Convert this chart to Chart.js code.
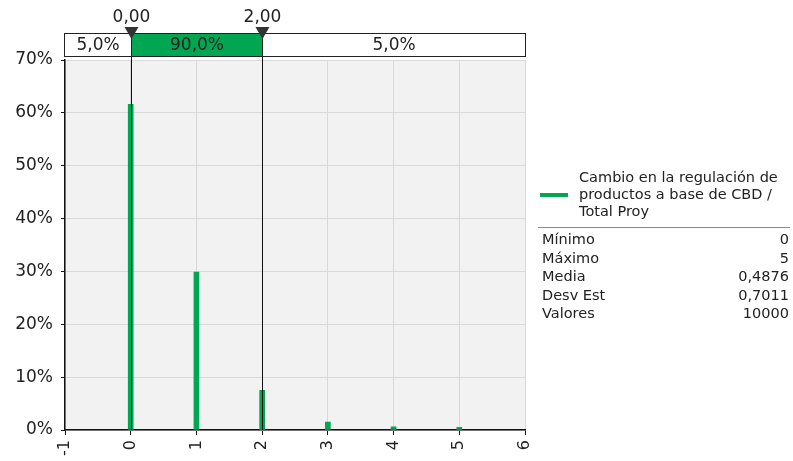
<!DOCTYPE html>
<html>
<head>
<meta charset="utf-8">
<script src="https://cdn.jsdelivr.net/npm/chart.js@4.4.1/dist/chart.umd.min.js"></script>
<style>
  html, body { margin: 0; padding: 0; background: #fff; }
  #wrap { position: relative; width: 793px; height: 461px; overflow: hidden; }
  #c { position: absolute; left: 0; top: 0; }
  #legend { position: absolute; left: 538px; top: 169px; width: 252px;
            font-family: "DejaVu Sans", sans-serif; font-size: 14.5px; color: #222; }
  #legend .series { position: relative; padding-left: 41px; line-height: 17px; }
  #legend .swatch { position: absolute; left: 2px; top: 24px; width: 28px; height: 4px; background: #00a651; }
  #legend hr { border: 0; border-top: 1px solid #888; margin: 7px 0 2px 0; }
  #legend table { width: 100%; border-collapse: collapse; font-size: 14.5px; }
  #legend td { padding: 0 0 0 4px; line-height: 18.6px; }
  #legend td.v { text-align: right; padding-right: 1px; }
</style>
</head>
<body>
<div id="wrap">
  <canvas id="c" width="793" height="461"></canvas>
  <div id="legend"></div>
</div>
<script>
// Distribution of simulated outcomes (percent of iterations per value)
const outcomes = [0, 1, 2, 3, 4, 5];
const percents = [61.6, 29.9, 7.5, 1.5, 0.6, 0.5];

// Delimiters and the share of iterations between them
const delimiters = [0, 2];
const delimiterLabels = ['0,00', '2,00'];
const bandLabels = ['5,0%', '90,0%', '5,0%'];

// Axis ranges
const xRange = [-1, 6];
const yRange = [0, 70];

// Series name and summary statistics
const seriesName = ['Cambio en la regulación de', 'productos a base de CBD /', 'Total Proy'];
const statNames = ['Mínimo', 'Máximo', 'Media', 'Desv Est', 'Valores'];
const statValues = ['0', '5', '0,4876', '0,7011', '10000'];

const GREEN = '#00a651';
const FONT = '"DejaVu Sans", sans-serif';

// Legend block
(function buildLegend() {
  const el = document.getElementById('legend');
  let html = '<div class="series"><div class="swatch"></div>' + seriesName.join('<br>') + '</div><hr><table>';
  statNames.forEach((n, i) => {
    html += '<tr><td>' + n + '</td><td class="v">' + statValues[i] + '</td></tr>';
  });
  html += '</table>';
  el.innerHTML = html;
})();

// Plot background
const plotBackground = {
  id: 'plotBackground',
  beforeDraw(chart) {
    const { ctx, chartArea: a } = chart;
    ctx.save();
    ctx.fillStyle = '#f2f2f2';
    ctx.fillRect(a.left, a.top, a.right - a.left, a.bottom - a.top);
    ctx.restore();
  }
};

// Delimiter lines, percentage band and markers above the plot
const delimiterBand = {
  id: 'delimiterBand',
  afterDatasetsDraw(chart) {
    const { ctx, chartArea: a } = chart;
    const xs = chart.scales.x;
    const px = delimiters.map(v => Math.round(xs.getPixelForValue(v)) + 0.5);
    const bandTop = 33.5, bandBot = 56.5;

    ctx.save();
    // vertical delimiter lines
    ctx.strokeStyle = '#111';
    ctx.lineWidth = 1;
    px.forEach(x => {
      ctx.beginPath();
      ctx.moveTo(x, bandTop);
      ctx.lineTo(x, a.bottom);
      ctx.stroke();
    });

    // band segments
    const edges = [Math.round(a.left) - 0.5, px[0], px[1], Math.round(a.right) + 0.5];
    ctx.fillStyle = '#fff';
    ctx.fillRect(edges[0], bandTop, edges[3] - edges[0], bandBot - bandTop);
    ctx.fillStyle = GREEN;
    ctx.fillRect(edges[1], bandTop, edges[2] - edges[1], bandBot - bandTop);
    ctx.strokeStyle = '#222';
    ctx.strokeRect(edges[0], bandTop, edges[3] - edges[0], bandBot - bandTop);
    ctx.beginPath();
    ctx.moveTo(px[0], bandTop); ctx.lineTo(px[0], bandBot);
    ctx.moveTo(px[1], bandTop); ctx.lineTo(px[1], bandBot);
    ctx.stroke();

    ctx.font = '17px ' + FONT;
    ctx.fillStyle = '#222';
    ctx.textAlign = 'center';
    ctx.textBaseline = 'middle';
    for (let i = 0; i < 3; i++) {
      ctx.fillText(bandLabels[i], (edges[i] + edges[i + 1]) / 2, (bandTop + bandBot) / 2 + 1);
    }

    // triangle markers and their values
    px.forEach((x, i) => {
      ctx.fillStyle = '#333';
      ctx.beginPath();
      ctx.moveTo(x - 7, 27);
      ctx.lineTo(x + 7, 27);
      ctx.lineTo(x, 39);
      ctx.closePath();
      ctx.fill();
      ctx.fillStyle = '#222';
      ctx.font = '17px ' + FONT;
      ctx.textBaseline = 'alphabetic';
      ctx.fillText(delimiterLabels[i], x, 22);
    });
    ctx.restore();
  }
};

new Chart(document.getElementById('c'), {
  type: 'bar',
  data: {
    datasets: [{
      data: outcomes.map((v, i) => ({ x: v, y: percents[i] })),
      backgroundColor: GREEN,
      barThickness: 5,
      borderWidth: 0
    }]
  },
  plugins: [plotBackground, delimiterBand],
  options: {
    responsive: false,
    animation: false,
    layout: { padding: { top: 60, right: 268, left: 0, bottom: 0 } },
    plugins: { legend: { display: false }, tooltip: { enabled: false } },
    scales: {
      x: {
        type: 'linear',
        offset: false,
        min: xRange[0],
        max: xRange[1],
        afterFit(s) { s.height = 31; },
        ticks: {
          stepSize: 1,
          minRotation: 90,
          maxRotation: 90,
          padding: 5,
          color: '#222',
          font: { family: FONT, size: 16 },
          callback: v => String(v)
        },
        grid: { offset: false, color: '#d9d9d9', tickColor: '#111', tickLength: 5 },
        border: { color: '#111', width: 1.5 }
      },
      y: {
        min: yRange[0],
        max: yRange[1],
        afterFit(s) { s.width = 65; },
        ticks: {
          stepSize: 10,
          padding: 8,
          color: '#222',
          font: { family: FONT, size: 17 },
          callback: v => v + '%'
        },
        grid: { color: '#d9d9d9', tickColor: '#111', tickLength: 4 },
        border: { color: '#111', width: 1.5 }
      }
    }
  }
});
</script>
</body>
</html>
